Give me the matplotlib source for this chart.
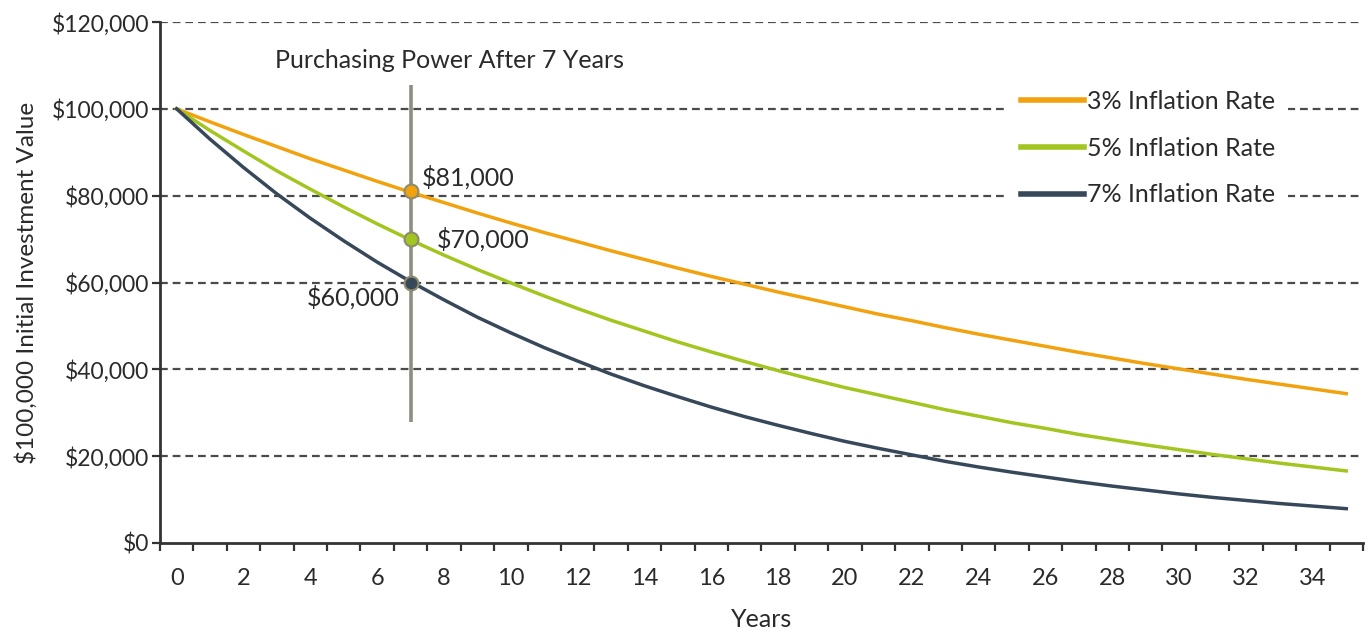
import matplotlib
matplotlib.use("Agg")
import matplotlib.pyplot as plt
from matplotlib.ticker import MultipleLocator, FuncFormatter

years = list(range(0, 36))
rate3 = [100000, 97000, 94100, 91300, 88500, 85900, 83300, 80800, 78400, 76000,
         73700, 71500, 69400, 67300, 65300, 63300, 61400, 59600, 57800, 56100,
         54400, 52700, 51200, 49600, 48100, 46700, 45300, 43900, 42600, 41300,
         40100, 38900, 37700, 36600, 35500, 34400]
rate5 = [100000, 95000, 90300, 85700, 81500, 77400, 73500, 69800, 66300, 63000,
         59900, 56900, 54000, 51300, 48800, 46300, 44000, 41800, 39700, 37700,
         35800, 34100, 32400, 30700, 29200, 27700, 26400, 25000, 23800, 22600,
         21500, 20400, 19400, 18400, 17500, 16600]
rate7 = [100000, 93000, 86500, 80400, 74800, 69600, 64700, 60200, 56000, 52000,
         48400, 45000, 41900, 38900, 36200, 33700, 31300, 29100, 27100, 25200,
         23400, 21800, 20300, 18800, 17500, 16300, 15200, 14100, 13100, 12200,
         11300, 10500, 9800, 9100, 8500, 7900]
series_labels = ["3% Inflation Rate", "5% Inflation Rate", "7% Inflation Rate"]
highlight_year = 7
highlight_values = [81000, 70000, 60000]
highlight_labels = ["$81,000", "$70,000", "$60,000"]
title_text = "Purchasing Power After 7 Years"

c3, c5, c7 = "#F2A20F", "#A2C520", "#37485A"
edge_c = "#8C8C6E"
txt_c = "#2A2A2A"
FS = 18
TFS = 16.5
LFS = 18

plt.rcParams['font.family'] = ['Lato', 'DejaVu Sans']

fig = plt.figure(figsize=(13.72, 6.33), dpi=100)
ax = fig.add_axes([0.1166, 0.1422, 0.8768, 0.823])

ax.set_xlim(-0.5, 35.5)
ax.set_ylim(0, 120000)

# grid
for yv in range(20000, 120001, 20000):
    ax.axhline(yv, color="#4A4A4A", lw=1.6, ls=(0, (3.5, 2.2)), zorder=1)

# vertical highlight line
ax.plot([highlight_year, highlight_year], [27800, 105500], color="#8E8E80",
        lw=2.6, zorder=2, solid_capstyle='butt')

l3, = ax.plot(years, rate3, color=c3, lw=2.5, zorder=3, label=series_labels[0])
l5, = ax.plot(years, rate5, color=c5, lw=2.5, zorder=3, label=series_labels[1])
l7, = ax.plot(years, rate7, color=c7, lw=2.5, zorder=3, label=series_labels[2])

for v, c in zip(highlight_values, [c3, c5, c7]):
    ax.plot([highlight_year], [v], marker='o', ms=10, mfc=c, mec=edge_c,
            mew=1.5, zorder=4)

ax.annotate(highlight_labels[0], (highlight_year, highlight_values[0]),
            xytext=(8, 10), textcoords='offset points', fontsize=FS,
            color=txt_c, ha='left', va='center')
ax.annotate(highlight_labels[1], (highlight_year, highlight_values[1]),
            xytext=(19, 0), textcoords='offset points', fontsize=FS,
            color=txt_c, ha='left', va='center')
ax.annotate(highlight_labels[2], (highlight_year, highlight_values[2]),
            xytext=(-8, -11), textcoords='offset points', fontsize=FS,
            color=txt_c, ha='right', va='center')

ax.text(8.15, 111250, title_text, fontsize=FS, color=txt_c,
        ha='center', va='center')

leg = ax.legend(handles=[l3, l5, l7], loc='center left',
                bbox_to_anchor=(0.705, 0.758), frameon=True, fontsize=LFS,
                handlelength=2.55, handletextpad=0.1, labelspacing=0.95,
                borderpad=0.5, borderaxespad=0.0, framealpha=1.0)
leg.get_frame().set_facecolor('white')
leg.get_frame().set_edgecolor('none')
for line in leg.get_lines():
    line.set_linewidth(4)
for t in leg.get_texts():
    t.set_color(txt_c)

# axes styling
for s in ['top', 'right']:
    ax.spines[s].set_visible(False)
for s in ['left', 'bottom']:
    ax.spines[s].set_color("#333333")
    ax.spines[s].set_linewidth(2)

ax.yaxis.set_major_locator(MultipleLocator(20000))
ax.yaxis.set_major_formatter(FuncFormatter(lambda v, p: "${:,.0f}".format(v)))
ax.tick_params(axis='y', length=6, width=1.6, color="#333333",
               labelsize=TFS, labelcolor=txt_c, pad=2)

ax.set_xticks(list(range(0, 35, 2)))
ax.set_xticks([x - 0.5 for x in range(0, 37)], minor=True)
ax.tick_params(axis='x', which='major', length=0, labelsize=17,
               labelcolor=txt_c, pad=18)
ax.tick_params(axis='x', which='minor', length=6, width=1.6, color="#333333")

ax.set_xlabel("Years", fontsize=FS, color=txt_c, labelpad=14)
ax.set_ylabel("$100,000 Initial Investment Value", fontsize=17.5,
              color=txt_c, labelpad=10)

fig.savefig("out.png", dpi=100, facecolor='white')
